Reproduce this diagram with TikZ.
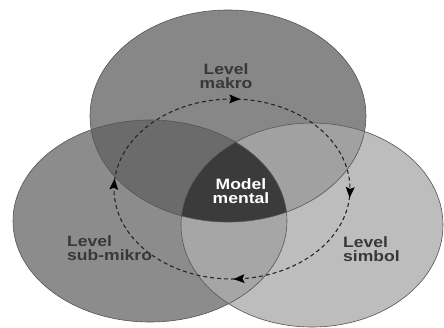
\documentclass[tikz,border=0pt]{standalone}
\usepackage{fontspec}
\setmainfont{Liberation Sans}
\newfontfamily\lblfont[FakeStretch=1.17]{Liberation Sans}
\usetikzlibrary{decorations.markings}
\definecolor{ctop}{gray}{0.53}
\definecolor{cleft}{gray}{0.55}
\definecolor{cright}{gray}{0.74}
\definecolor{ctl}{gray}{0.42}
\definecolor{ctr}{gray}{0.63}
\definecolor{clr}{gray}{0.65}
\definecolor{ccen}{gray}{0.23}
\definecolor{edge}{gray}{0.33}
\definecolor{txt}{gray}{0.22}
\tikzset{
  lbl/.style={font=\lblfont\bfseries\fontsize{15}{14}\selectfont, text=txt, align=left, inner sep=0pt},
  cyc/.style={draw=black!85, line width=1.1pt, dash pattern=on 4pt off 3pt},
  rim/.style={draw=edge, line width=0.6pt}
}
\newcommand{\headtri}{\fill[black, solid] (-6,-4.5) -- (5,0) -- (-6,4.5) -- (-4,0) -- cycle;}
\def\ptop{(228,116) ellipse [x radius=138, y radius=106]}
\def\pleft{(150,221) ellipse [x radius=137, y radius=101]}
\def\pright{(312,225) ellipse [x radius=131, y radius=102]}
\begin{document}
\begin{tikzpicture}[x=1pt,y=-1pt]
\useasboundingbox (0,0) rectangle (444,327);
\fill[white] (0,0) rectangle (444,327);
\fill[ctop] \ptop;
\fill[cleft] \pleft;
\fill[cright] \pright;
\begin{scope}\clip \ptop; \fill[ctl] \pleft; \end{scope}
\begin{scope}\clip \ptop; \fill[ctr] \pright; \end{scope}
\begin{scope}\clip \pleft; \fill[clr] \pright; \end{scope}
\begin{scope}\clip \ptop; \clip \pleft; \fill[ccen] \pright; \end{scope}
\draw[rim] \ptop;
\draw[rim] \pleft;
\draw[rim] \pright;
\draw[cyc, postaction={decorate}, decoration={markings,
   mark=at position 0.006 with {\headtri},
   mark=at position 0.24 with {\headtri},
   mark=at position 0.508 with {\headtri},
   mark=at position 0.755 with {\headtri}}]
   (232,189) ellipse [x radius=118, y radius=90];
\node[lbl, align=center] (makro) at (226,76) {Level\\makro};
\node[lbl, align=center, text=white] (mental) at (241,191) {Model\\mental};
\node[lbl, anchor=west, align=left] (sub) at (67,248) {Level\\sub-mikro};
\node[lbl, anchor=west, align=left] (simbol) at (343,249) {Level\\simbol};
\end{tikzpicture}
\end{document}
